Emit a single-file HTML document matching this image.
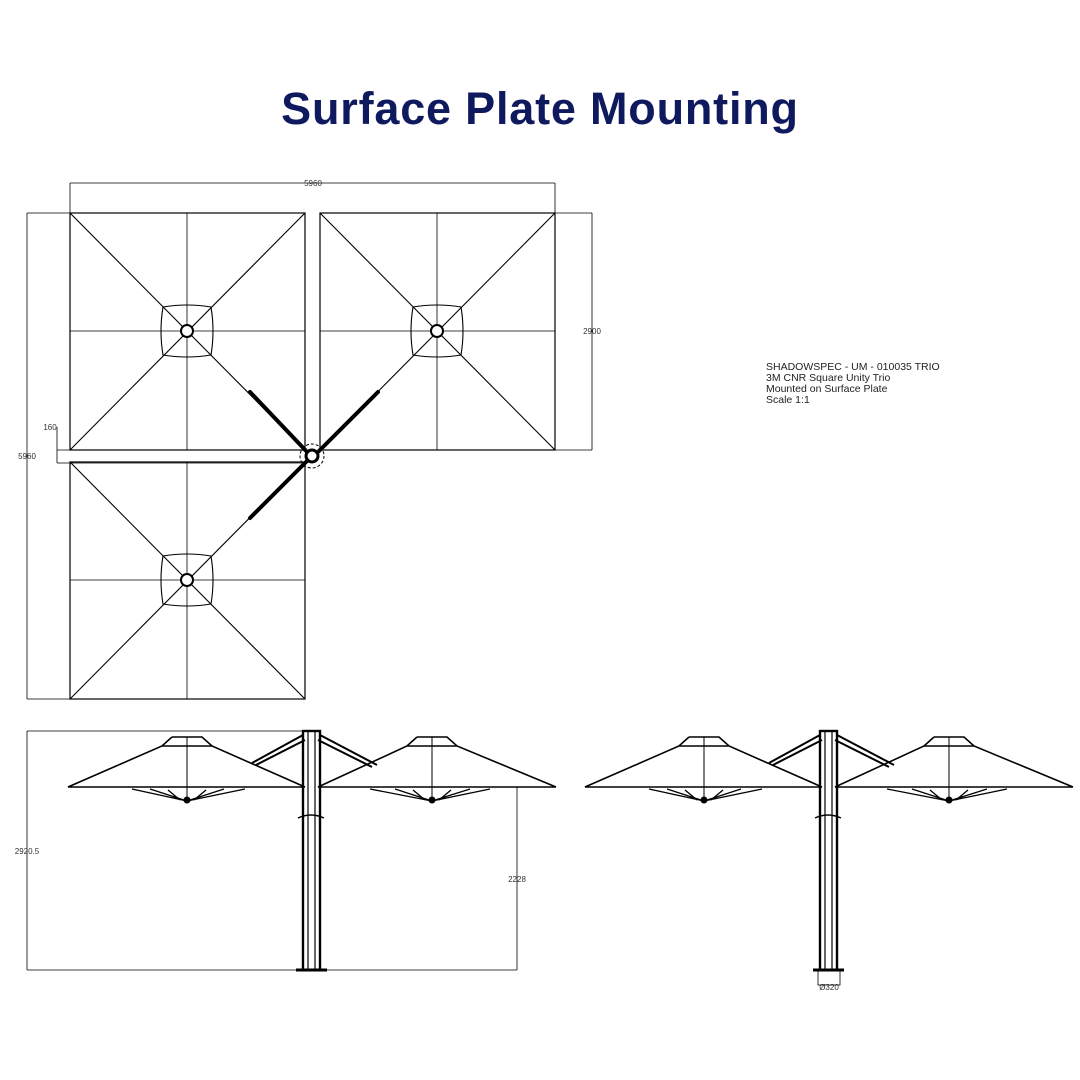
<!DOCTYPE html>
<html><head><meta charset="utf-8"><style>
html,body{margin:0;padding:0;background:#fff;width:1080px;height:1080px;overflow:hidden}
</style></head><body>
<svg width="1080" height="1080" viewBox="0 0 1080 1080" xmlns="http://www.w3.org/2000/svg">
<rect width="1080" height="1080" fill="#fff"/>
<text x="540" y="124" text-anchor="middle" font-family="Liberation Sans, sans-serif" font-weight="bold" font-size="45" letter-spacing="0.8" fill="#0f1a5e">Surface Plate Mounting</text>

<defs>
<g id="sq">
  <rect x="-117" y="-118" width="235" height="237" fill="none" stroke="#000" stroke-width="1.2"/>
  <line x1="-117" y1="-118" x2="118" y2="119" stroke="#000" stroke-width="1.1"/>
  <line x1="118" y1="-118" x2="-117" y2="119" stroke="#000" stroke-width="1.1"/>
  <line x1="0" y1="-118" x2="0" y2="119" stroke="#000" stroke-width="0.8"/>
  <line x1="-117" y1="0" x2="118" y2="0" stroke="#000" stroke-width="0.8"/>
  <path d="M-24,-24 Q0,-28 24,-24 Q28,0 24,24 Q0,28 -24,24 Q-28,0 -24,-24Z" fill="none" stroke="#000" stroke-width="1.1"/>
  <circle cx="0" cy="0" r="6" fill="#fff" stroke="#000" stroke-width="2"/>
</g>
<g id="elev" fill="none" stroke="#000">
  <path d="M172,737 L202,737 L212,746 L305,787 M172,737 L162,746 L68,787 L305,787 M162,746 L212,746" stroke-width="1.6"/>
  <line x1="187" y1="737" x2="187" y2="797" stroke-width="1"/>
  <path d="M187,801 L132,789 M187,801 L150,789 M187,801 L224,789 M187,801 L245,789 M180,800 L168,790 M194,800 L206,790" stroke-width="1.3"/>
  <circle cx="187" cy="800" r="3" fill="#000"/>
  <path d="M417,737 L447,737 L457,746 L556,787 M417,737 L407,746 L318,787 L556,787 M407,746 L457,746" stroke-width="1.6"/>
  <line x1="432" y1="737" x2="432" y2="797" stroke-width="1"/>
  <path d="M432,801 L370,789 M432,801 L395,789 M432,801 L470,789 M432,801 L490,789 M425,800 L413,790 M439,800 L451,790" stroke-width="1.3"/>
  <circle cx="432" cy="800" r="3" fill="#000"/>
  <path d="M303,735 L252,763 M305,740 L256,765" stroke-width="2"/>
  <path d="M320,735 L377,765 M318,740 L372,767" stroke-width="2"/>
  <rect x="303" y="731" width="17" height="239" stroke-width="2.4"/>
  <line x1="308" y1="731" x2="308" y2="970" stroke-width="1.2"/>
  <line x1="315" y1="731" x2="315" y2="970" stroke-width="1.2"/>
  <path d="M298,818 Q311,812 324,818" stroke-width="1.5"/>
  <line x1="296" y1="970" x2="327" y2="970" stroke-width="3"/>
</g>
</defs>

<use href="#sq" transform="translate(187,331)"/>
<use href="#sq" transform="translate(437,331)"/>
<use href="#sq" transform="translate(187,580)"/>
<g stroke="#000" stroke-linecap="round">
<line x1="250" y1="392" x2="310" y2="455" stroke-width="4"/>
<line x1="378" y1="392" x2="315" y2="455" stroke-width="4"/>
<line x1="250" y1="518" x2="310" y2="458" stroke-width="4"/>
</g>
<circle cx="312" cy="456" r="12" fill="none" stroke="#000" stroke-width="1" stroke-dasharray="3,2"/>
<circle cx="312" cy="456" r="6" fill="#fff" stroke="#000" stroke-width="3"/>
<g stroke="#000" stroke-width="0.8" fill="none">
<line x1="70" y1="183" x2="555" y2="183"/><line x1="70" y1="183" x2="70" y2="213"/><line x1="555" y1="183" x2="555" y2="213"/>
<line x1="592" y1="213" x2="592" y2="450"/><line x1="555" y1="213" x2="592" y2="213"/><line x1="555" y1="450" x2="592" y2="450"/>
<line x1="27" y1="213" x2="27" y2="699"/><line x1="27" y1="213" x2="70" y2="213"/><line x1="27" y1="699" x2="70" y2="699"/>
<line x1="57" y1="427" x2="57" y2="463"/><line x1="57" y1="450" x2="305" y2="450"/><line x1="57" y1="463" x2="305" y2="463"/>
<line x1="27" y1="731" x2="310" y2="731"/><line x1="27" y1="731" x2="27" y2="970"/><line x1="27" y1="970" x2="517" y2="970"/>
<line x1="517" y1="787" x2="517" y2="970"/>
</g>
<g font-family="Liberation Sans, sans-serif" font-size="8" fill="#333">
<text x="313" y="186" text-anchor="middle">5960</text>
<text x="592" y="334" text-anchor="middle">2900</text>
<text x="27" y="459" text-anchor="middle">5960</text>
<text x="50" y="430" text-anchor="middle">160</text>
<text x="27" y="854" text-anchor="middle">2920.5</text>
<text x="517" y="882" text-anchor="middle">2228</text>
<text x="829" y="990" text-anchor="middle">Ø320</text>
</g>
<g font-family="Liberation Sans, sans-serif" font-size="10.5" fill="#222">
<text x="766" y="370">SHADOWSPEC - UM - 010035 TRIO</text>
<text x="766" y="381">3M CNR Square Unity Trio</text>
<text x="766" y="392">Mounted on Surface Plate</text>
<text x="766" y="403">Scale 1:1</text>
</g>

<use href="#elev"/>
<use href="#elev" transform="translate(517,0)"/>
<rect x="818" y="970" width="22" height="15" fill="none" stroke="#000" stroke-width="0.8"/>
</svg>
</body></html>
